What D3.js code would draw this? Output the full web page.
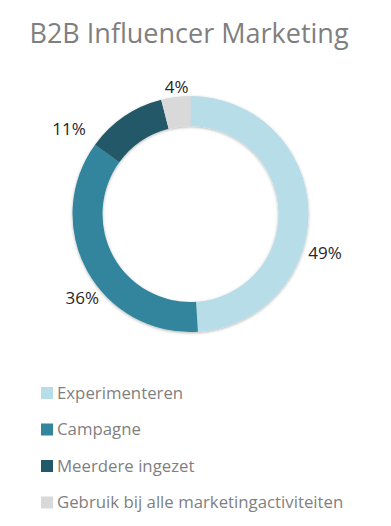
<!DOCTYPE html>
<html>
<head>
<meta charset="utf-8">
<script src="https://cdn.jsdelivr.net/npm/d3@7"></script>
<style>
  body { margin: 0; background: #fff; }
  text { font-family: "Open Sans", "Noto Sans", sans-serif; }
</style>
</head>
<body>
<div id="chart"></div>
<script>
// B2B influencer marketing donut
var categories = ["Experimenteren", "Campagne", "Meerdere ingezet", "Gebruik bij alle marketingactiviteiten"];
var values = [49, 36, 11, 4];
var labels = ["49%", "36%", "11%", "4%"];
var colors = ["#b7dde8", "#31859c", "#215968", "#d9d9d9"];

var w = 391;
var h = 526;
var cx = 190.5, cy = 214;
var outerR = 118, innerR = 88;

// label placement tweaks (Excel "best fit" puts them off the middle)
var labelTurn = [18, -9, -21, 1];
var labelDist = [140, 137, 148, 128];

var svg = d3.select("#chart").append("svg").attr("width", w).attr("height", h);

var defs = svg.append("defs");
var f = defs.append("filter").attr("id", "shadow")
    .attr("x", "-10%").attr("y", "-10%").attr("width", "120%").attr("height", "120%");
f.append("feDropShadow").attr("dx", 0).attr("dy", 1).attr("stdDeviation", 1.5)
    .attr("flood-color", "#000").attr("flood-opacity", 0.3);

svg.append("text")
    .attr("x", 189)
    .attr("y", 43)
    .attr("text-anchor", "middle")
    .attr("fill", "#7f7f7f")
    .style("font-size", "27px")
    .text("B2B Influencer Marketing");

var pie = d3.pie().sort(null).value(function(d) { return d; });
var arcs = pie(values);
var arc = d3.arc().innerRadius(innerR).outerRadius(outerR);

var g = svg.append("g").attr("transform", "translate(" + cx + "," + cy + ")");

g.append("g").attr("filter", "url(#shadow)")
    .selectAll("path")
    .data(arcs)
    .enter()
    .append("path")
    .attr("d", arc)
    .attr("fill", function(d, i) { return colors[i]; });

g.selectAll(".lbl")
    .data(arcs)
    .enter()
    .append("text")
    .attr("class", "lbl")
    .attr("transform", function(d, i) {
        var a = (d.startAngle + d.endAngle) / 2 + labelTurn[i] * Math.PI / 180;
        var r = labelDist[i];
        return "translate(" + (r * Math.sin(a)) + "," + (-r * Math.cos(a)) + ")";
    })
    .attr("text-anchor", "middle")
    .attr("dy", "0.35em")
    .attr("fill", "#262626")
    .style("font-size", "17px")
    .text(function(d, i) { return labels[i]; });

var legend = svg.append("g").attr("transform", "translate(41,393)");
var rows = legend.selectAll("g")
    .data(categories)
    .enter()
    .append("g")
    .attr("transform", function(d, i) { return "translate(0," + (i * 36.5) + ")"; });

rows.append("rect")
    .attr("x", 0).attr("y", -6)
    .attr("width", 12).attr("height", 12)
    .attr("fill", function(d, i) { return colors[i]; });

rows.append("text")
    .attr("x", 16)
    .attr("dy", "0.35em")
    .attr("fill", "#7f7f7f")
    .style("font-size", "16.8px")
    .text(function(d) { return d; });
</script>
</body>
</html>
